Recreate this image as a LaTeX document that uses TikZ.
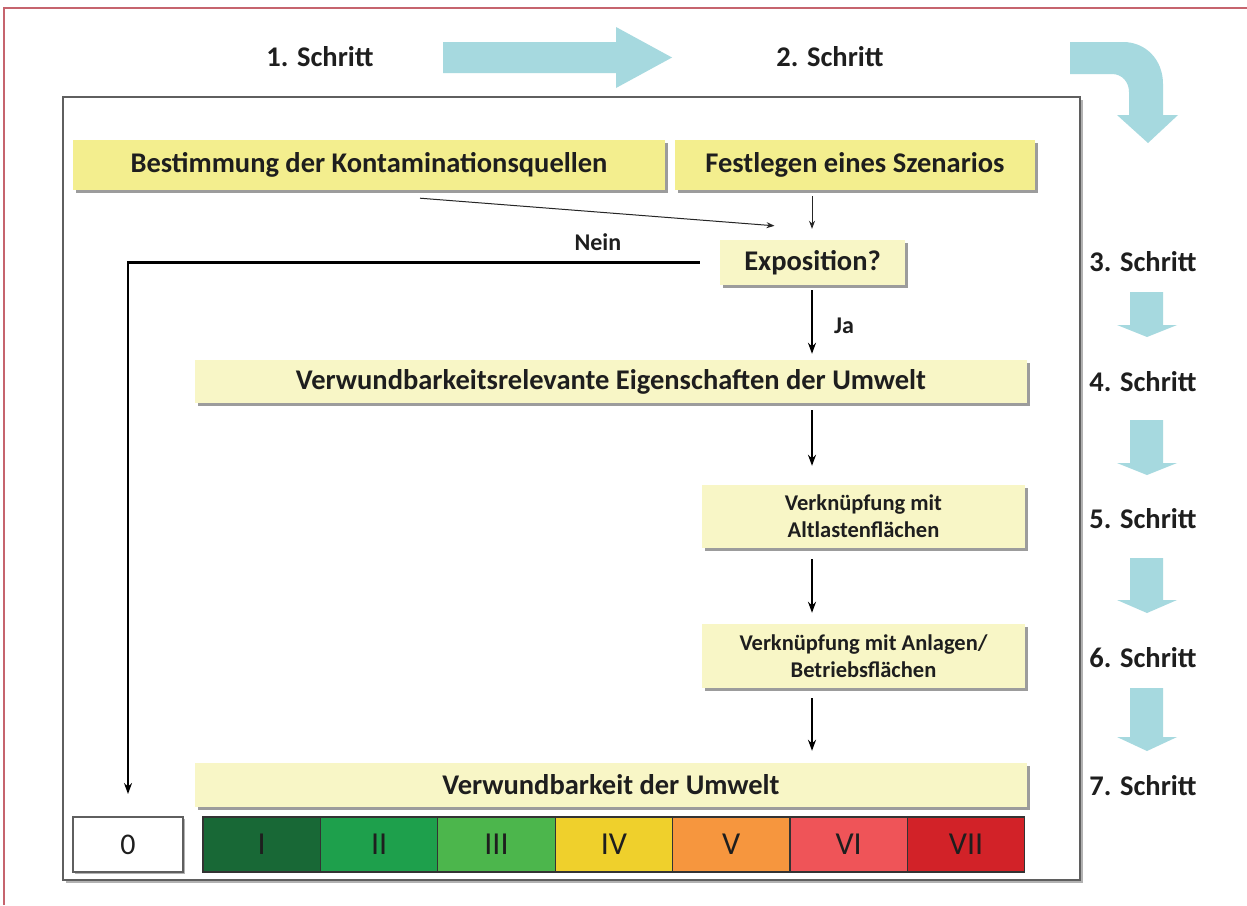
\documentclass[tikz,border=0pt]{standalone}
\usepackage{fontspec}
\setmainfont{Carlito}
\usetikzlibrary{positioning,shadows,arrows.meta}

\definecolor{boxyellow}{RGB}{243,238,142}
\definecolor{paleyellow}{RGB}{248,246,198}
\definecolor{stepblue}{RGB}{166,217,223}
\definecolor{framered}{RGB}{198,100,110}
\definecolor{framegray}{RGB}{95,95,95}
\definecolor{textdark}{RGB}{30,30,30}
\definecolor{lvlI}{RGB}{24,104,54}
\definecolor{lvlII}{RGB}{30,160,76}
\definecolor{lvlIII}{RGB}{76,182,76}
\definecolor{lvlIV}{RGB}{239,208,44}
\definecolor{lvlV}{RGB}{246,150,62}
\definecolor{lvlVI}{RGB}{239,84,88}
\definecolor{lvlVII}{RGB}{210,34,40}

\tikzset{
  box/.style={fill=boxyellow, inner sep=0pt, text=textdark, align=center,
    font=\bfseries\fontsize{28.5}{32}\selectfont,
    drop shadow={shadow xshift=3pt, shadow yshift=-3pt, fill=black!55, opacity=0.7}},
  palebox/.style={box, fill=paleyellow},
  smallbox/.style={palebox, font=\bfseries\fontsize{22.5}{27}\selectfont},
  steplabel/.style={text=textdark, font=\bfseries\fontsize{28.5}{32}\selectfont},
  flowlabel/.style={text=textdark, inner sep=0pt, font=\bfseries\fontsize{24}{28}\selectfont},
  flow/.style={->, line width=2.4pt, draw=black},
  thinflow/.style={-{Stealth[length=8pt,width=6pt]}, line width=1pt, draw=black!85},
  cell/.style={draw=black!80, line width=1.2pt, minimum width=117.4pt, minimum height=55pt,
    inner sep=0pt, text=textdark, font=\fontsize{32}{36}\selectfont},
  zerobox/.style={cell, fill=white, draw=framegray, line width=2pt, minimum width=110pt,
    font=\fontsize{30}{34}\selectfont,
    drop shadow={shadow xshift=2pt, shadow yshift=-2pt, fill=black!50, opacity=0.6}}
}

\begin{document}
\begin{tikzpicture}[x=1pt, y=-1pt, >={Stealth[length=11pt,width=8pt]}]
\useasboundingbox[fill=white] (0,0) rectangle (1247,905);

% frames
\draw[framered, line width=1.3pt] (4,905) -- (4,8) -- (1247,8);
\draw[framegray, line width=2.2pt, fill=white,
  drop shadow={shadow xshift=3pt, shadow yshift=-3pt, fill=black!50, opacity=0.6}]
  (63,97) rectangle (1080,880);

% blue step arrows
\fill[stepblue] (443,42) -- (616,42) -- (616,27) -- (672,57.5) -- (616,88) -- (616,73) -- (443,73) -- cycle;
\fill[stepblue] (1070,42) -- (1123,42) .. controls (1146,42) and (1163,60) .. (1163,84)
  -- (1163,115) -- (1178,115) -- (1148,143) -- (1117,115) -- (1129,115) -- (1129,92)
  .. controls (1129,82) and (1122,74) .. (1112,74) -- (1070,74) -- cycle;
\foreach \top/\base/\tip in {292/325/337, 420/463/475, 558/600/613, 688/737/751}
  \fill[stepblue] (1130,\top) -- (1163,\top) -- (1163,\base) -- (1177,\base)
    -- (1147,\tip) -- (1117,\base) -- (1130,\base) -- cycle;

% step labels
\node[steplabel] (s1) at (320,57) {1. Schritt};
\node[steplabel] (s2) at (830,57) {2. Schritt};
\node[steplabel] (s3) at (1143,262) {3. Schritt};
\node[steplabel] (s4) at (1143,382) {4. Schritt};
\node[steplabel] (s5) at (1143,519) {5. Schritt};
\node[steplabel] (s6) at (1143,658) {6. Schritt};
\node[steplabel] (s7) at (1143,786) {7. Schritt};

% boxes
\node[box, minimum width=592pt, minimum height=50pt] (quellen) at (369,165) {Bestimmung der Kontaminationsquellen};
\node[box, minimum width=360pt, minimum height=50pt] (szenario) at (855,165) {Festlegen eines Szenarios};
\node[palebox, minimum width=185pt, minimum height=45pt] (expo) at (812.5,262.5) {Exposition?};
\node[palebox, minimum width=832pt, minimum height=43pt] (relevant) at (611,381.5) {Verwundbarkeitsrelevante Eigenschaften der Umwelt};
\node[smallbox, minimum width=323pt, minimum height=63pt] (altlast) at (863.5,516.5) {Verknüpfung mit\\Altlastenflächen};
\node[smallbox, minimum width=323pt, minimum height=64pt] (anlagen) at (863.5,656) {Verknüpfung mit Anlagen/\\Betriebsflächen};
\node[palebox, minimum width=832pt, minimum height=44pt] (umwelt) at (611,785) {Verwundbarkeit der Umwelt};

% scale
\node[zerobox] (zero) at (128,844.5) {0};
\node[cell, fill=lvlI] (c1) at (261.7,844.5) {I};
\node[cell, fill=lvlII] (c2) [right of=c1, node distance=117.4pt] {II};
\node[cell, fill=lvlIII] (c3) [right of=c2, node distance=117.4pt] {III};
\node[cell, fill=lvlIV] (c4) [right of=c3, node distance=117.4pt] {IV};
\node[cell, fill=lvlV] (c5) [right of=c4, node distance=117.4pt] {V};
\node[cell, fill=lvlVI] (c6) [right of=c5, node distance=117.4pt] {VI};
\node[cell, fill=lvlVII] (c7) [right of=c6, node distance=117.4pt] {VII};

% connectors
\coordinate (col) at (812,0);
\draw[thinflow] ([xshift=51pt,yshift=-8pt]quellen.south) -- ([xshift=-38pt,yshift=14pt]expo.north);
\draw[thinflow, shorten <=6pt, shorten >=11pt] (col |- szenario.south) -- (col |- expo.north);
\draw[flow, shorten <=5pt, shorten >=6pt] (col |- expo.south) -- node[flowlabel, right=21pt, yshift=-3pt] (ja) {Ja} (col |- relevant.north);
\draw[flow, shorten <=20pt, shorten >=22pt] (expo.west) -| node[flowlabel, pos=0.103, above=11pt] (nein) {Nein} (zero.north);
\draw[flow, shorten <=7pt, shorten >=19pt] (col |- relevant.south) -- (col |- altlast.north);
\draw[flow, shorten <=11pt, shorten >=11pt] (col |- altlast.south) -- (col |- anlagen.north);
\draw[flow, shorten <=10pt, shorten >=12pt] (col |- anlagen.south) -- (col |- umwelt.north);
\end{tikzpicture}
\end{document}
